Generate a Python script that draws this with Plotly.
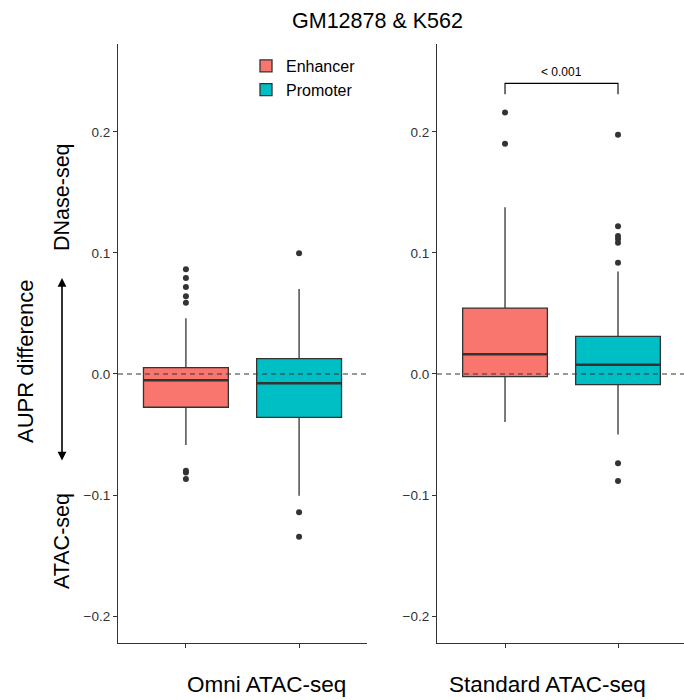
import plotly.graph_objects as go

# ---------------- data ----------------
groups = ["Enhancer", "Promoter"]
panels = ["Omni ATAC-seq", "Standard ATAC-seq"]
colors = {"Enhancer": "#F8766D", "Promoter": "#00BFC4"}

# summary statistics per panel (Omni, Standard)
enh_q1 = [-0.0275, -0.0022]
enh_med = [-0.0052, 0.0163]
enh_q3 = [0.0052, 0.0545]
enh_lo = [-0.0587, -0.0397]
enh_hi = [0.0460, 0.1377]
enh_out = [[0.0865, 0.0793, 0.0719, 0.0642, 0.0589, -0.0799, -0.0815, -0.0868],
           [0.2160, 0.1903]]

pro_q1 = [-0.0358, -0.0088]
pro_med = [-0.0077, 0.0077]
pro_q3 = [0.0127, 0.0311]
pro_lo = [-0.1006, -0.0501]
pro_hi = [0.0702, 0.0846]
pro_out = [[0.0997, -0.1143, -0.1344],
           [0.1978, 0.1221, 0.1140, 0.1116, 0.1085, 0.0920, -0.0738, -0.0884]]

yticks = [-0.2, -0.1, 0.0, 0.1, 0.2]
yticktext = ["\u22120.2", "\u22120.1", "0.0", "0.1", "0.2"]
pvalue_text = "< 0.001"

title = "GM12878 & K562"
ytitle = "AUPR difference"
top_label = "DNase-seq"
bottom_label = "ATAC-seq"

# ---------------- figure ----------------
W, H = 684, 700
FONT = "Liberation Sans, Arial, Helvetica, sans-serif"
DARK = "#333333"
BOXW = 0.75

fig = go.Figure()

stats = {
    "Enhancer": (enh_q1, enh_med, enh_q3, enh_lo, enh_hi, enh_out),
    "Promoter": (pro_q1, pro_med, pro_q3, pro_lo, pro_hi, pro_out),
}

for p in range(2):
    xa = "x" if p == 0 else "x2"
    ya = "y" if p == 0 else "y2"
    for gi, g in enumerate(groups):
        q1, med, q3, lo, hi, out = stats[g]
        pos = gi + 1
        fig.add_trace(go.Box(
            x=[pos], q1=[q1[p]], median=[med[p]], q3=[q3[p]],
            lowerfence=[lo[p]], upperfence=[hi[p]],
            name=g, legendgroup=g, showlegend=(p == 0),
            fillcolor=colors[g], line=dict(color=DARK, width=1.3),
            width=BOXW, whiskerwidth=0, boxpoints=False,
            xaxis=xa, yaxis=ya, hoverinfo="skip",
        ))
        # thicker median line
        fig.add_trace(go.Scatter(
            x=[pos - BOXW / 2, pos + BOXW / 2], y=[med[p], med[p]],
            mode="lines", line=dict(color=DARK, width=2.6),
            showlegend=False, xaxis=xa, yaxis=ya, hoverinfo="skip",
        ))
        # outliers
        fig.add_trace(go.Scatter(
            x=[pos] * len(out[p]), y=out[p], mode="markers",
            marker=dict(color=DARK, size=6),
            showlegend=False, xaxis=xa, yaxis=ya, hoverinfo="skip",
        ))

ydom = [1 - 643 / H, 1 - 44 / H]
yrange = [-0.2223, 0.2727]

axis_common = dict(
    showgrid=False, zeroline=False, showline=True, linecolor=DARK, linewidth=1.2,
    ticks="outside", ticklen=4, tickcolor=DARK, tickwidth=1.1,
)
fig.update_layout(
    width=W, height=H,
    margin=dict(l=0, r=0, t=0, b=0),
    paper_bgcolor="white", plot_bgcolor="white",
    font=dict(family=FONT, color="black"),
    xaxis=dict(domain=[118 / W, 367 / W], range=[0.4, 2.6], tickvals=[1, 2],
               showticklabels=False, anchor="y", **axis_common),
    xaxis2=dict(domain=[437 / W, 1.0], range=[0.398, 2.584], tickvals=[1, 2],
                showticklabels=False, anchor="y2", **axis_common),
    yaxis=dict(domain=ydom, range=yrange, tickvals=yticks, ticktext=yticktext,
               tickfont=dict(size=13.5, color=DARK), anchor="x", **axis_common),
    yaxis2=dict(domain=ydom, range=yrange, tickvals=yticks, ticktext=yticktext,
                tickfont=dict(size=13.5, color=DARK), anchor="x2", **axis_common),
    legend=dict(x=246 / W, y=1 - 49 / H, xanchor="left", yanchor="top",
                font=dict(size=16, color="black"), bgcolor="rgba(0,0,0,0)",
                tracegroupgap=0, itemwidth=30),
    showlegend=True,
)

# dashed zero lines
for xr, yr in (("x domain", "y"), ("x2 domain", "y2")):
    fig.add_shape(type="line", xref=xr, yref=yr, x0=0, x1=1, y0=0, y1=0,
                  line=dict(color=DARK, width=1.1, dash="5px,4px"), layer="above")

# significance bracket on the Standard panel
br_top, br_bot = 0.2402, 0.2312
fig.add_shape(type="path", xref="x2", yref="y2",
              path=f"M 1 {br_bot} L 1 {br_top} L 2 {br_top} L 2 {br_bot}",
              line=dict(color="black", width=1.1))
fig.add_annotation(x=1.5, y=br_top, xref="x2", yref="y2", text=pvalue_text,
                   showarrow=False, yanchor="bottom", yshift=2,
                   font=dict(size=12, color="black"))


def label(xp, yp, text, size, angle=0):
    fig.add_annotation(x=xp / W, y=1 - yp / H, xref="paper", yref="paper", text=text,
                       textangle=angle, showarrow=False, xanchor="center",
                       yanchor="middle", font=dict(size=size, color="black"))


label(377, 21, title, 21.5)
label(266, 684, panels[0], 22.5)
label(547, 684, panels[1], 22.5)
label(25, 362, ytitle, 22)
fig.layout.annotations[-1].textangle = -90
label(62, 197, top_label, 21.5, -90)
label(62, 541, bottom_label, 21.5, -90)

# double-headed arrow
fig.add_annotation(x=62 / W, y=1 - 278 / H, xref="paper", yref="paper",
                   ax=0, ay=184, axref="pixel", ayref="pixel", text="",
                   showarrow=True, arrowhead=2, startarrowhead=2, arrowside="end+start",
                   arrowsize=1.1, startarrowsize=1.1, arrowwidth=1.6, arrowcolor="black")

fig.write_html("out.html")
